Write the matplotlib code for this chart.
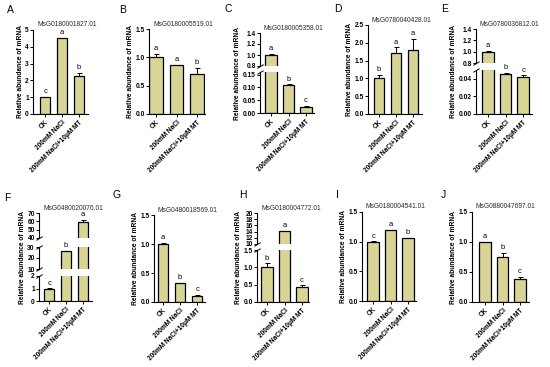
import matplotlib
matplotlib.use("Agg")
import matplotlib.pyplot as plt

plt.rcParams['font.family'] = ['Liberation Sans', 'DejaVu Sans']

W, H = 550, 367

conditions = ["CK", "200mM NaCl", "200mM NaCl+10μM MT"]
panel_ids = ["A", "B", "C", "D", "E", "F", "G", "H", "I", "J"]
genes = ["MsG0180001827.01", "MsG0180005519.01", "MsG0180005358.01",
         "MsG0780040428.01", "MsG0780036812.01", "MsG0480020076.01",
         "MsG0480018569.01", "MsG0180004772.01", "MsG0180004541.01",
         "MsG0880047697.01"]
means = [[1.0, 4.5, 2.25], [1.0, 0.86, 0.70], [1.0, 0.11, 0.025],
         [1.0, 1.70, 1.80], [1.0, 0.046, 0.042], [1.0, 26.0, 59.0],
         [1.0, 0.33, 0.11], [1.0, 14.2, 0.43], [1.0, 1.19, 1.06],
         [1.0, 0.75, 0.39]]
errs = [[0.02, 0.04, 0.2], [0.06, 0.01, 0.11], [0.02, 0.002, 0.002],
        [0.1, 0.17, 0.32], [0.01, 0.001, 0.002], [0.02, 0.5, 3.0],
        [0.02, 0.005, 0.01], [0.12, 0.1, 0.05], [0.005, 0.005, 0.005],
        [0.005, 0.07, 0.03]]
sig = ["cab", "aab", "abc", "baa", "abc", "cba", "abc", "bac", "cab", "abc"]

# y-axis segments per panel, bottom to top
seg_ticks = [
    [[0, 1, 2, 3, 4, 5]],
    [[0, 0.5, 1.0, 1.5]],
    [[0, 0.05, 0.10, 0.15], [0.8, 1.0, 1.2, 1.4]],
    [[0, 0.5, 1.0, 1.5, 2.0, 2.5]],
    [[0, 0.02, 0.04], [0.8, 1.0, 1.2, 1.4]],
    [[0, 1, 2], [10, 20, 30], [40, 50, 60, 70]],
    [[0, 0.5, 1.0, 1.5]],
    [[0, 0.5, 1.0, 1.5], [10, 12, 14, 16, 18, 20]],
    [[0, 0.5, 1.0, 1.5]],
    [[0, 0.5, 1.0, 1.5]],
]
seg_labels = [
    [["0", "1", "2", "3", "4", "5"]],
    [["0.0", "0.5", "1.0", "1.5"]],
    [["0.00", "0.05", "0.10", "0.15"], ["0.8", "1.0", "1.2", "1.4"]],
    [["0.0", "0.5", "1.0", "1.5", "2.0", "2.5"]],
    [["0.00", "0.02", "0.04"], ["0.8", "1.0", "1.2", "1.4"]],
    [["0", "1", "2"], ["10", "20", "30"], ["40", "50", "60", "70"]],
    [["0.0", "0.5", "1.0", "1.5"]],
    [["0.0", "0.5", "1.0", "1.5"], ["10", "12", "14", "16", "18", "20"]],
    [["0.0", "0.5", "1.0", "1.5"]],
    [["0.0", "0.5", "1.0", "1.5"]],
]
seg_lims = [
    [(0, 5)], [(0, 1.5)], [(0, 0.16), (0.8, 1.4)], [(0, 2.5)],
    [(0, 0.05), (0.8, 1.4)], [(0, 2), (10, 30), (40, 70)], [(0, 1.5)],
    [(0, 1.5), (10, 20)], [(0, 1.5)], [(0, 1.5)],
]

# layout in pixels: axis left, axis right, CK centre, MT centre
xpix = [(33, 88, 45, 79), (149, 205, 156, 197), (260, 314, 271, 306),
        (368, 422, 379, 413), (476, 532, 488, 523), (39, 92, 49, 83),
        (154, 205, 163, 197), (257, 309, 267, 302), (362, 416, 373, 408),
        (472, 529, 485, 520)]
# segment pixel spans (top, bottom), bottom to top
ypix = [
    [(30, 114)], [(29, 114)], [(72, 113), (33, 66)], [(25, 114)],
    [(70, 114), (29, 63)], [(276, 301), (247, 269), (213, 238)],
    [(215, 302)], [(250, 302), (213, 244)], [(212, 301)], [(212, 302)],
]
letter_pos = [(10, 10), (123, 10), (228, 9), (338, 9), (445, 9),
              (7, 198), (117, 195), (243, 195), (337, 195), (443, 195)]

bar_color = "#D7D496"
fig = plt.figure(figsize=(W / 100, H / 100), dpi=100)


def add_px_axes(left, right, top, bottom):
    return fig.add_axes([left / W, 1 - bottom / H, (right - left) / W, (bottom - top) / H])


brk = dict(marker=[(-1, -0.6), (1, 0.6)], markersize=4.5, linestyle="none",
           color="k", mec="k", mew=0.7, clip_on=False)

ylabel_axes = []
for i in range(10):
    left, right, ck, mt = xpix[i]
    unit = (mt - ck) / 2
    xlim = ((left - ck) / unit, (right - ck) / unit)
    x = [0, 1, 2]
    axes = []
    nseg = len(seg_lims[i])
    for s in range(nseg):
        top, bottom = ypix[i][s]
        ax = add_px_axes(left, right, top, bottom)
        ax.bar(x, means[i], width=0.64, color=bar_color, edgecolor="k", linewidth=0.9)
        ax.errorbar(x, means[i], yerr=[[0, 0, 0], errs[i]], fmt="none",
                    ecolor="k", elinewidth=0.7, capsize=1.8, capthick=0.7)
        ax.set_xlim(*xlim)
        ax.set_ylim(*seg_lims[i][s])
        ax.set_yticks(seg_ticks[i][s])
        ax.set_yticklabels(seg_labels[i][s], fontsize=4.8, fontweight="bold")
        ax.spines["top"].set_visible(False)
        ax.spines["right"].set_visible(False)
        for sp in ax.spines.values():
            sp.set_linewidth(0.8)
        ax.tick_params(axis="y", length=2, width=0.7, pad=1)
        ax.patch.set_alpha(0)
        if s > 0:
            ax.spines["bottom"].set_visible(False)
            ax.set_xticks([])
            ax.plot([0], [0], transform=ax.transAxes, **brk)
        if s < nseg - 1:
            ax.plot([0], [1], transform=ax.transAxes, **brk)
        axes.append(ax)

        # significance letters in the segment holding the bar top
        lo, hi = seg_lims[i][s]
        for j in range(3):
            t = means[i][j] + errs[i][j]
            if lo <= t <= hi:
                ax.annotate(sig[i][j], (x[j], t), xytext=(0, 1.2),
                            textcoords="offset points", ha="center",
                            va="bottom", fontsize=5.4, annotation_clip=False)

    base = axes[0]
    base.set_xticks(x)
    base.set_xticklabels(conditions, rotation=45, ha="right", va="top",
                         rotation_mode="anchor", fontsize=4.7, fontweight="bold")
    base.tick_params(axis="x", length=2, width=0.7, pad=1.5)
    ylabel_axes.append(axes)

    top_all = ypix[i][-1][0]
    fig.text((left + 4) / W, 1 - (top_all - 5) / H, genes[i], fontsize=4.8,
             color="#2a2a2a", ha="left", va="center")
    lx, ly = letter_pos[i]
    fig.text(lx / W, 1 - ly / H, panel_ids[i], fontsize=7.5, ha="center",
             va="center")

# y labels placed left of the widest tick labels of all segments in a panel
fig.canvas.draw()
renderer = fig.canvas.get_renderer()
for i, axes in enumerate(ylabel_axes):
    x0 = min(t.get_window_extent(renderer).x0
             for ax in axes for t in ax.get_yticklabels())
    top_all = ypix[i][-1][0]
    bot_all = ypix[i][0][1]
    fig.text((x0 - 5) / W, 1 - (top_all + bot_all) / 2 / H,
             "Relative abundance of mRNA", fontsize=4.8, fontweight="bold",
             rotation=90, ha="center", va="center")

fig.savefig("out.png", dpi=100)
